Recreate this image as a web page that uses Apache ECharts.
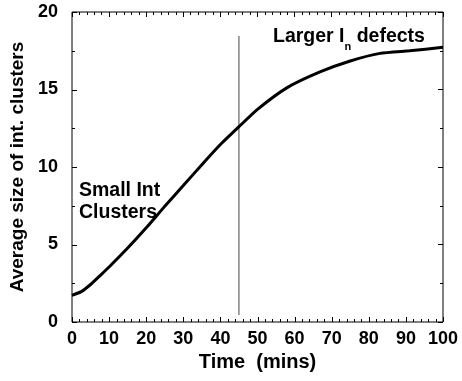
<!DOCTYPE html>
<html>
<head>
<meta charset="utf-8">
<script src="https://cdn.jsdelivr.net/npm/echarts@6/dist/echarts.min.js"></script>
<style>
  html, body { margin: 0; padding: 0; background: #fff; }
  #chart { width: 462px; height: 381px; }
</style>
</head>
<body>
<div id="chart"></div>
<script>
// Average interstitial cluster size over annealing time
const timeMins = [0, 2.5, 5, 7.5, 10, 15, 20, 25, 30, 35, 40, 45, 50, 58, 67, 75, 83, 91, 100];
const avgSize  = [1.72, 1.96, 2.42, 2.98, 3.55, 4.77, 6.08, 7.46, 8.8, 10.15, 11.45, 12.6, 13.72, 15.12, 16.15, 16.84, 17.33, 17.5, 17.72];

// Vertical divider separating the two cluster regimes
const dividerX = [45, 45];
const dividerY = [0.45, 18.45];

const xTicks = [0, 10, 20, 30, 40, 50, 60, 70, 80, 90, 100];
const yTicks = [0, 5, 10, 15, 20];
const X_MINOR_SPLIT = 5;
const Y_MINOR_SPLIT = 2;

const FONT = '"Liberation Sans", Arial, Helvetica, sans-serif';
const MAJOR_LEN = 5, MINOR_LEN = 3;

const chart = echarts.init(document.getElementById('chart'), null, { renderer: 'canvas' });

// Value axis over the x or y range; "ticks" axes draw only inward major/minor ticks.
function makeAxis(kind, position, role) {
  const ticks = kind === 'x' ? xTicks : yTicks;
  const isTicks = role === 'ticks';
  const axis = {
    type: 'value',
    gridIndex: 0,
    position: position,
    min: ticks[0],
    max: ticks[ticks.length - 1],
    interval: ticks[1] - ticks[0],
    axisLine: { show: false, onZero: false },
    axisTick: { show: isTicks, inside: true, length: MAJOR_LEN, lineStyle: { color: '#000', width: 1 } },
    minorTick: { show: isTicks, splitNumber: kind === 'x' ? X_MINOR_SPLIT : Y_MINOR_SPLIT, length: MINOR_LEN, lineStyle: { color: '#000', width: 1 } },
    splitLine: { show: false },
    minorSplitLine: { show: false },
    axisLabel: { show: false }
  };
  if (!isTicks) {
    axis.axisLabel = {
      show: true, color: '#000', fontFamily: FONT, fontWeight: 'bold', fontSize: 18,
      margin: kind === 'x' ? 8 : 14
    };
  }
  return axis;
}

const xBottom = makeAxis('x', 'bottom', 'label');
xBottom.name = 'Time  (mins)';
xBottom.nameLocation = 'middle';
xBottom.nameGap = 29;
xBottom.nameTextStyle = { color: '#000', fontFamily: FONT, fontWeight: 'bold', fontSize: 20 };

const yLeft = makeAxis('y', 'left', 'label');
yLeft.name = 'Average size of int. clusters';
yLeft.nameLocation = 'middle';
yLeft.nameGap = 44;
yLeft.nameTextStyle = { color: '#000', fontFamily: FONT, fontWeight: 'bold', fontSize: 19 };

chart.setOption({
  animation: false,
  backgroundColor: '#fff',
  grid: { show: true, borderColor: '#000', borderWidth: 1, backgroundColor: 'transparent',
          left: 72, right: 19, top: 12, bottom: 59 },
  xAxis: [xBottom, makeAxis('x', 'top', 'ticks')],
  yAxis: [yLeft, makeAxis('y', 'right', 'ticks')],
  series: [
    {
      type: 'line',
      xAxisIndex: 0,
      yAxisIndex: 0,
      data: timeMins.map((t, i) => [t, avgSize[i]]),
      showSymbol: false,
      smooth: 0.2,
      lineStyle: { color: '#000', width: 3 },
      z: 3
    },
    {
      type: 'line',
      xAxisIndex: 0,
      yAxisIndex: 0,
      data: dividerX.map((x, i) => [x, dividerY[i]]),
      showSymbol: false,
      lineStyle: { color: '#444', width: 1 },
      z: 2
    },
    {
      // binds the top/right tick axes to the grid
      type: 'line', xAxisIndex: 1, yAxisIndex: 1, data: [], showSymbol: false, silent: true
    }
  ]
});

// Inward ticks along the left and bottom edges, placed through the axis scales
function tickValues(ticks, split) {
  const out = [];
  for (let i = 0; i < ticks.length; i++) {
    out.push({ v: ticks[i], len: MAJOR_LEN });
    if (i < ticks.length - 1) {
      const step = (ticks[i + 1] - ticks[i]) / split;
      for (let k = 1; k < split; k++) out.push({ v: ticks[i] + k * step, len: MINOR_LEN });
    }
  }
  return out;
}

const x0 = chart.convertToPixel({ xAxisIndex: 0 }, xTicks[0]);
const y0 = chart.convertToPixel({ yAxisIndex: 0 }, yTicks[0]);
const edgeTicks = [];
tickValues(xTicks, X_MINOR_SPLIT).forEach(t => {
  const px = Math.round(chart.convertToPixel({ xAxisIndex: 0 }, t.v)) + 0.5;
  edgeTicks.push({ type: 'line', silent: true,
    shape: { x1: px, y1: y0, x2: px, y2: y0 - t.len },
    style: { stroke: '#000', lineWidth: 1 } });
});
tickValues(yTicks, Y_MINOR_SPLIT).forEach(t => {
  const py = Math.round(chart.convertToPixel({ yAxisIndex: 0 }, t.v)) + 0.5;
  edgeTicks.push({ type: 'line', silent: true,
    shape: { x1: x0, y1: py, x2: x0 + t.len, y2: py },
    style: { stroke: '#000', lineWidth: 1 } });
});

chart.setOption({
  graphic: [
    {
      type: 'text', left: 273, top: 27,
      style: {
        text: '{a|Larger I}{s|n}{a| defects}',
        rich: {
          a: { fontFamily: FONT, fontWeight: 'bold', fontSize: 19.5, fill: '#000', verticalAlign: 'bottom', lineHeight: 20 },
          s: { fontFamily: FONT, fontWeight: 'bold', fontSize: 11, fill: '#000', verticalAlign: 'bottom', lineHeight: 20, padding: [0, 0, -5, 0] }
        }
      }
    },
    {
      type: 'text', left: 79, top: 180,
      style: {
        text: 'Small Int\nClusters',
        fontFamily: FONT, fontWeight: 'bold', fontSize: 19.5, lineHeight: 22, fill: '#000'
      }
    }
  ].concat(edgeTicks)
});
</script>
</body>
</html>
